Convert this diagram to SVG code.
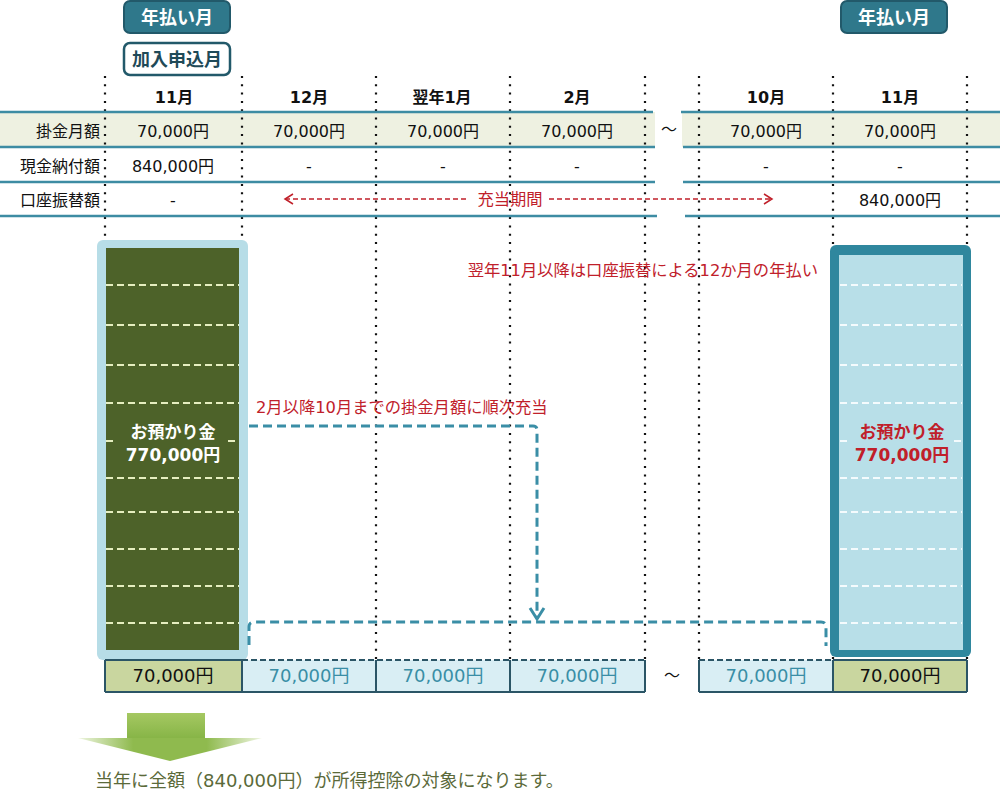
<svg xmlns="http://www.w3.org/2000/svg" width="1000" height="793" viewBox="0 0 1000 793">
<defs>
<style>
text{font-family:"DejaVu Sans","Noto Sans CJK JP",sans-serif;}
.hd{font-size:16px;font-weight:bold;fill:#111;text-anchor:middle;}
.v{font-size:16px;fill:#111;text-anchor:middle;}
.lbl{font-size:16px;fill:#111;text-anchor:end;}
.red{font-size:16.3px;fill:#c0202a;}
.dot{stroke:#111;stroke-width:2.2;stroke-dasharray:2 6.3;fill:none;}
.hl{stroke:#3d8ca3;stroke-width:2.5;}
.ydash{stroke:#e6eec0;stroke-width:2;stroke-dasharray:7 4;}
.wdash{stroke:#f4fbfd;stroke-width:2;stroke-dasharray:7 4;}
.conn{stroke:#3a8ea6;stroke-width:3;stroke-dasharray:9 5;fill:none;}
.bc{stroke:#2b5566;stroke-width:2;}
.bt{font-size:18px;text-anchor:middle;fill:#3a8ea6;}
.bk{font-size:18px;text-anchor:middle;fill:#111;}
.badge{fill:#2f788b;stroke:#22596a;stroke-width:2;}
.bw{font-size:18px;font-weight:bold;fill:#fff;text-anchor:middle;}
.blk{font-size:17px;font-weight:bold;text-anchor:middle;}
</style>
<marker id="rarr" markerWidth="12" markerHeight="12" refX="10" refY="6" orient="auto-start-reverse" markerUnits="userSpaceOnUse">
<path d="M2,1 L10,6 L2,11" fill="none" stroke="#c0202a" stroke-width="1.5"/>
</marker>
<marker id="tarr" markerWidth="20" markerHeight="20" refX="10" refY="17" markerUnits="userSpaceOnUse">
<path d="M3,6 L10,17 L17,6" fill="none" stroke="#3a8ea6" stroke-width="3"/>
</marker>
<linearGradient id="gshaft" x1="0" y1="0" x2="0" y2="1">
<stop offset="0" stop-color="#a5c862"/>
<stop offset="1" stop-color="#86b446"/>
</linearGradient>
<linearGradient id="ghead" x1="0" y1="0" x2="1" y2="0">
<stop offset="0" stop-color="#eef5e0"/>
<stop offset="0.3" stop-color="#8fba4e"/>
<stop offset="0.7" stop-color="#8fba4e"/>
<stop offset="1" stop-color="#eef5e0"/>
</linearGradient>
</defs>
<rect width="1000" height="793" fill="#fff"/>

<g id="badge-left">
<rect class="badge" x="124" y="1" width="106" height="32" rx="6"/>
<text class="bw" x="177" y="24">年払い月</text>
</g>
<g id="badge-apply">
<rect x="124" y="43" width="106" height="32" rx="6" fill="#fff" stroke="#22596a" stroke-width="2.5"/>
<text x="177" y="66" font-size="18" font-weight="bold" fill="#1f4a58" text-anchor="middle">加入申込月</text>
</g>
<g id="badge-right">
<rect class="badge" x="841" y="1" width="106" height="32" rx="6"/>
<text class="bw" x="894" y="24">年払い月</text>
</g>

<g id="table">
<rect x="0" y="112" width="655" height="35" fill="#eef1e1"/>
<rect x="682" y="112" width="318" height="35" fill="#eef1e1"/>
<g>
<line class="dot" x1="105" y1="76" x2="105" y2="660"/>
<line class="dot" x1="242" y1="76" x2="242" y2="660"/>
<line class="dot" x1="376" y1="76" x2="376" y2="660"/>
<line class="dot" x1="510" y1="76" x2="510" y2="660"/>
<line class="dot" x1="645" y1="76" x2="645" y2="660"/>
<line class="dot" x1="699" y1="76" x2="699" y2="660"/>
<line class="dot" x1="833" y1="76" x2="833" y2="660"/>
<line class="dot" x1="967" y1="76" x2="967" y2="660"/>
</g>
<line class="hl" x1="0" y1="112" x2="653" y2="112"/>
<line class="hl" x1="681" y1="112" x2="1000" y2="112"/>
<line class="hl" x1="0" y1="147" x2="655" y2="147"/>
<line class="hl" x1="683" y1="147" x2="1000" y2="147"/>
<line class="hl" x1="0" y1="182" x2="655" y2="182"/>
<line class="hl" x1="683" y1="182" x2="1000" y2="182"/>
<line class="hl" x1="0" y1="216" x2="657" y2="216"/>
<line class="hl" x1="685" y1="216" x2="1000" y2="216"/>

<text class="hd" x="174" y="103">11月</text>
<text class="hd" x="309" y="103">12月</text>
<text class="hd" x="442" y="103">翌年1月</text>
<text class="hd" x="577" y="103">2月</text>
<text class="hd" x="766" y="103">10月</text>
<text class="hd" x="900" y="103">11月</text>

<text class="lbl" x="100" y="137">掛金月額</text>
<text class="lbl" x="100" y="172">現金納付額</text>
<text class="lbl" x="100" y="206">口座振替額</text>

<text class="v" x="173" y="137">70,000円</text>
<text class="v" x="309" y="137">70,000円</text>
<text class="v" x="443" y="137">70,000円</text>
<text class="v" x="577" y="137">70,000円</text>
<text class="v" x="669" y="135">～</text>
<text class="v" x="766" y="137">70,000円</text>
<text class="v" x="900" y="137">70,000円</text>

<text class="v" x="173" y="172">840,000円</text>
<text class="v" x="309" y="172">-</text>
<text class="v" x="443" y="172">-</text>
<text class="v" x="577" y="172">-</text>
<text class="v" x="766" y="172">-</text>
<text class="v" x="900" y="172">-</text>

<text class="v" x="173" y="206">-</text>
<text class="v" x="900" y="206">840,000円</text>
</g>

<g id="block-left">
<rect x="97" y="240" width="151" height="420" rx="6" fill="#b7dde7"/>
<rect x="106" y="248" width="133" height="402" fill="#4d6229"/>
<line class="ydash" x1="106" y1="285" x2="239" y2="285"/>
<line class="ydash" x1="106" y1="325" x2="239" y2="325"/>
<line class="ydash" x1="106" y1="365" x2="239" y2="365"/>
<line class="ydash" x1="106" y1="403" x2="239" y2="403"/>
<line class="ydash" x1="106" y1="441" x2="116" y2="441"/>
<line class="ydash" x1="228" y1="441" x2="239" y2="441"/>
<line class="ydash" x1="106" y1="478" x2="239" y2="478"/>
<line class="ydash" x1="106" y1="512" x2="239" y2="512"/>
<line class="ydash" x1="106" y1="549" x2="239" y2="549"/>
<line class="ydash" x1="106" y1="586" x2="239" y2="586"/>
<line class="ydash" x1="106" y1="623" x2="239" y2="623"/>
<text class="blk" x="173" y="438" fill="#fff">お預かり金</text>
<text class="blk" x="173" y="461" fill="#fff">770,000円</text>
</g>

<g id="block-right">
<rect x="830" y="245" width="141" height="412" rx="6" fill="#2f879e"/>
<rect x="839" y="255" width="124" height="395" fill="#b8dfe8"/>
<line class="wdash" x1="840" y1="285" x2="962" y2="285"/>
<line class="wdash" x1="840" y1="325" x2="962" y2="325"/>
<line class="wdash" x1="840" y1="365" x2="962" y2="365"/>
<line class="wdash" x1="840" y1="403" x2="962" y2="403"/>
<line class="wdash" x1="840" y1="441" x2="848" y2="441"/>
<line class="wdash" x1="954" y1="441" x2="962" y2="441"/>
<line class="wdash" x1="840" y1="478" x2="962" y2="478"/>
<line class="wdash" x1="840" y1="512" x2="962" y2="512"/>
<line class="wdash" x1="840" y1="549" x2="962" y2="549"/>
<line class="wdash" x1="840" y1="586" x2="962" y2="586"/>
<line class="wdash" x1="840" y1="623" x2="962" y2="623"/>
<text class="blk" x="902" y="438" fill="#c0202a">お預かり金</text>
<text class="blk" x="902" y="461" fill="#c0202a">770,000円</text>
</g>

<g id="bottom-row">
<rect x="105" y="660" width="137" height="32" fill="#c9d69f"/>
<rect x="242" y="660" width="403" height="32" fill="#d9eef4"/>
<rect x="699" y="660" width="134" height="32" fill="#d9eef4"/>
<rect x="833" y="660" width="134" height="32" fill="#c9d69f"/>
<line class="bc" x1="105" y1="660" x2="242" y2="660"/>
<line x1="242" y1="660" x2="645" y2="660" stroke="#2b5566" stroke-width="2" stroke-dasharray="6 3"/>
<line x1="699" y1="660" x2="833" y2="660" stroke="#2b5566" stroke-width="2" stroke-dasharray="6 3"/>
<line class="bc" x1="833" y1="660" x2="967" y2="660"/>
<line class="bc" x1="105" y1="692" x2="645" y2="692"/>
<line class="bc" x1="699" y1="692" x2="967" y2="692"/>
<line class="bc" x1="105" y1="660" x2="105" y2="692"/>
<line class="bc" x1="242" y1="660" x2="242" y2="692"/>
<line class="bc" x1="376" y1="660" x2="376" y2="692"/>
<line class="bc" x1="510" y1="660" x2="510" y2="692"/>
<line class="bc" x1="645" y1="660" x2="645" y2="692"/>
<line class="bc" x1="699" y1="660" x2="699" y2="692"/>
<line class="bc" x1="833" y1="660" x2="833" y2="692"/>
<line class="bc" x1="967" y1="660" x2="967" y2="692"/>
<text class="bk" x="173" y="682">70,000円</text>
<text class="bt" x="309" y="682">70,000円</text>
<text class="bt" x="443" y="682">70,000円</text>
<text class="bt" x="577" y="682">70,000円</text>
<text x="672" y="681" font-size="16" fill="#111" text-anchor="middle">～</text>
<text class="bt" x="766" y="682">70,000円</text>
<text class="bk" x="900" y="682">70,000円</text>
</g>

<g id="connectors">
<line x1="285" y1="199" x2="468" y2="199" stroke="#c0202a" stroke-width="1.5" stroke-dasharray="5 3" marker-start="url(#rarr)"/>
<line x1="549" y1="199" x2="772" y2="199" stroke="#c0202a" stroke-width="1.5" stroke-dasharray="5 3" marker-end="url(#rarr)"/>
<path class="conn" d="M249,426 H533 Q537,426 537,430 V619" marker-end="url(#tarr)"/>
<path class="conn" d="M249,645 V627 Q249,622 254,622 H821 Q826,622 826,627 V646"/>
</g>

<g id="labels">
<text class="red" x="510" y="205" text-anchor="middle" font-size="16.5">充当期間</text>
<text class="red" x="818" y="276" text-anchor="end">翌年11月以降は口座振替による12か月の年払い</text>
<text class="red" x="256" y="413">2月以降10月までの掛金月額に順次充当</text>
</g>

<g id="result-arrow">
<rect x="127" y="713" width="78" height="26" fill="url(#gshaft)"/>
<polygon points="78,738 262,738 170,761" fill="url(#ghead)"/>
</g>
<g id="result-text">
<text x="95" y="787" font-size="18" fill="#5b6a3a">当年に全額（840,000円）が所得控除の対象になります。</text>
</g>
</svg>
